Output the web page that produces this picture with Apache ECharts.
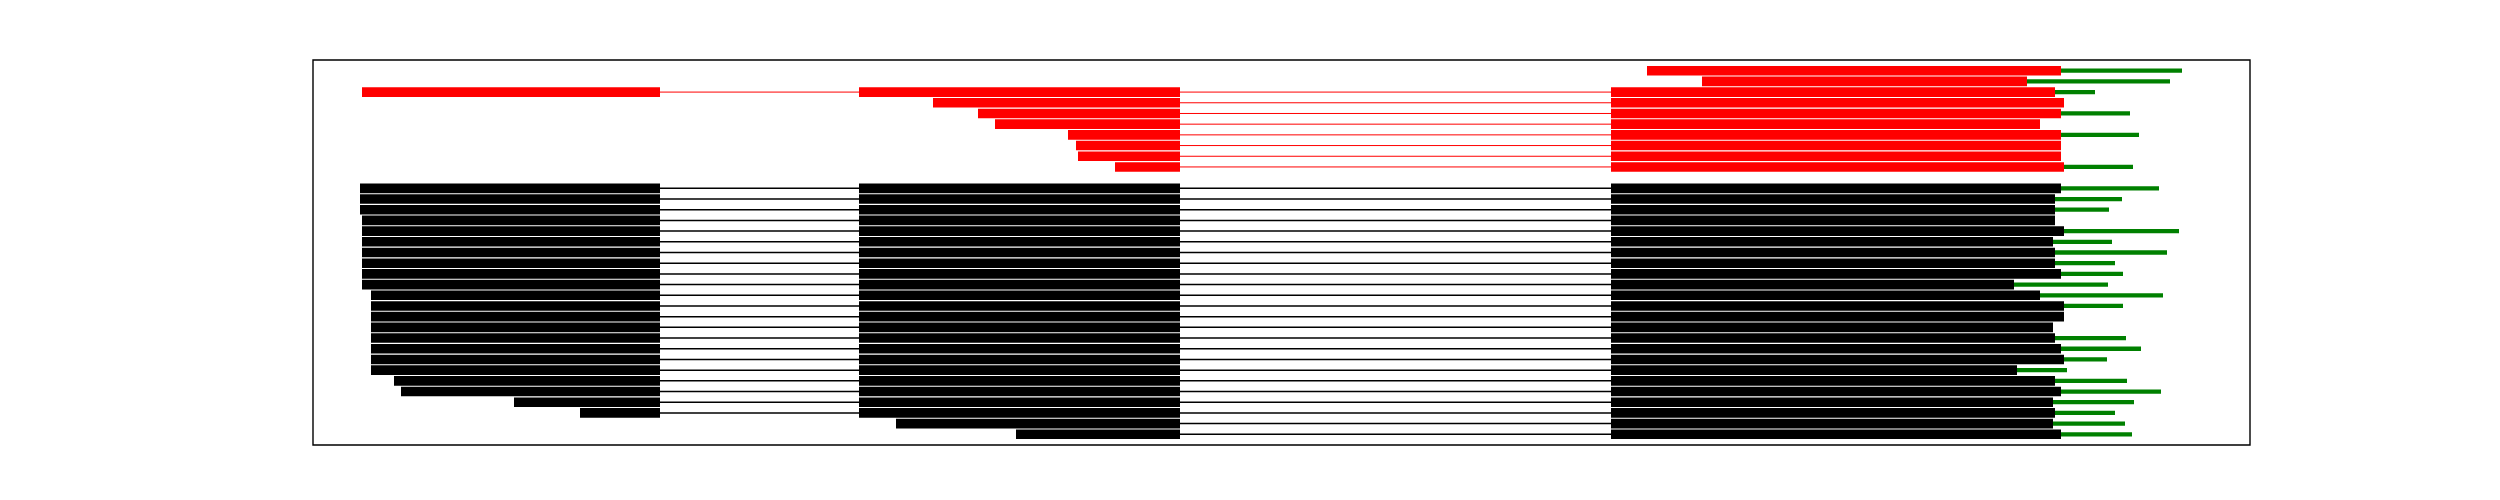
<!DOCTYPE html>
<html><head><meta charset="utf-8">
<script src="https://cdn.jsdelivr.net/npm/echarts@6/dist/echarts.min.js"></script>
<style>html,body{margin:0;padding:0;background:#fff}#c{width:2500px;height:500px}</style>
</head><body><div id="c"></div>
<script>
// one entry per row (top to bottom); null = no block / empty row
const rowGroup = ['red','red','red','red','red','red','red','red','red','red',null,
  'black','black','black','black','black','black','black','black','black','black','black','black',
  'black','black','black','black','black','black','black','black','black','black','black','black'];
const exon1Start = [null,null,49,null,null,null,null,null,null,null,null,
  47,47,47,49,49,49,49,49,49,49,58,58,58,58,58,58,58,58,81,88,201,267,null,null];
const exon1End = 347;
const exon2Start = [null,null,546,620,665,682,755,763,765,802,null,
  546,546,546,546,546,546,546,546,546,546,546,546,546,546,546,546,546,546,546,546,546,546,583,703];
const exon2End = 867;
const exon3Start = [1334,1389,1298,1298,1298,1298,1298,1298,1298,1298,null,
  1298,1298,1298,1298,1298,1298,1298,1298,1298,1298,1298,1298,1298,1298,1298,1298,1298,1298,1298,1298,1298,1298,1298,1298];
const exon3End = [1748,1714,1742,1751,1748,1727,1748,1748,1748,1751,null,
  1748,1742,1742,1742,1751,1740,1742,1742,1748,1701,1727,1751,1751,1740,1742,1748,1751,1704,1742,1748,1740,1742,1740,1748];
const tailEnd = [1869,1857,1782,null,1817,null,1826,null,null,1820,null,
  1846,1809,1796,null,1866,1799,1854,1802,1810,1795,1850,1810,null,null,1813,1828,1794,1754,1814,1848,1821,1802,1812,1819];

const colors = {red:'#ff0000', black:'#000000'};
const exons = {red:[], black:[]}, introns = {red:[], black:[]}, tails = [];
rowGroup.forEach((g, r) => {
  if (!g) return;
  if (exon1Start[r] != null) exons[g].push([r, exon1Start[r], exon1End]);
  if (exon2Start[r] != null) exons[g].push([r, exon2Start[r], exon2End]);
  if (exon3Start[r] != null) exons[g].push([r, exon3Start[r], exon3End[r]]);
  if (exon1Start[r] != null && exon2Start[r] != null) introns[g].push([r, exon1End, exon2Start[r]]);
  if (exon2Start[r] != null && exon3Start[r] != null) introns[g].push([r, exon2End, exon3Start[r]]);
  if (tailEnd[r] != null) tails.push([r, exon3End[r], tailEnd[r]]);
});

function rectRender(frac) {
  return function (params, api) {
    const r = api.value(0);
    const p0 = api.coord([api.value(1), r]);
    const p1 = api.coord([api.value(2), r]);
    const h = api.size([0, frac])[1];
    return {type:'rect', shape:{x:p0[0], y:p0[1]-h/2, width:p1[0]-p0[0], height:h},
      style:{fill: api.visual('color')}};
  };
}
function lineRender(width) {
  return function (params, api) {
    const r = api.value(0);
    const p0 = api.coord([api.value(1), r]);
    const p1 = api.coord([api.value(2), r]);
    return {type:'line', shape:{x1:p0[0], y1:p0[1], x2:p1[0], y2:p1[1]},
      style:{stroke: api.visual('color'), lineWidth: width}};
  };
}
const enc = {x:[1,2], y:0};
const series = [];
['red','black'].forEach(g => {
  series.push({type:'custom', renderItem: lineRender(g === 'red' ? 1 : 1.5), data: introns[g],
    itemStyle:{color: colors[g]}, encode: enc, z: 1});
});
['red','black'].forEach(g => {
  series.push({type:'custom', renderItem: rectRender(0.9), data: exons[g],
    itemStyle:{color: colors[g]}, encode: enc, z: 2});
});
series.push({type:'custom', renderItem: rectRender(0.4), data: tails,
  itemStyle:{color:'#008000'}, encode: enc, z: 3});

const chart = echarts.init(document.getElementById('c'), null, {renderer:'canvas'});
chart.setOption({
  animation: false,
  backgroundColor: '#fff',
  grid: {left: 313, top: 60, width: 1937, height: 385, show: true, borderColor: '#000', borderWidth: 1.4, backgroundColor: 'transparent'},
  xAxis: {type:'value', min:0, max:1937, show:false},
  yAxis: {type:'value', min:-1, max:35, inverse:true, show:false},
  series: series
});
</script></body></html>
